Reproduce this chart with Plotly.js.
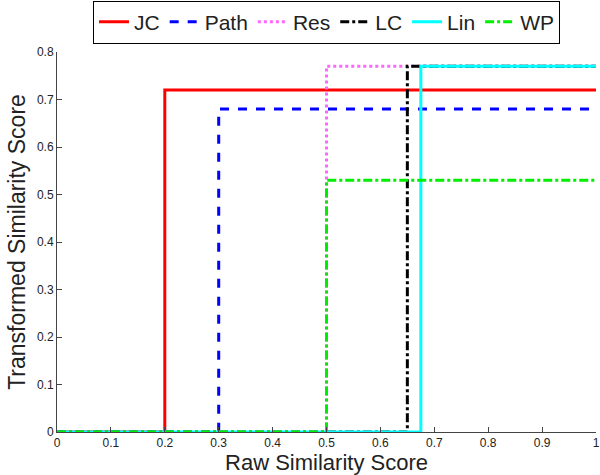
<!DOCTYPE html>
<html><head><meta charset="utf-8">
<script src="https://cdn.plot.ly/plotly-3.0.1.min.js"></script>
<style>html,body{margin:0;padding:0;background:#fff}#chart{width:600px;height:475px}</style>
</head><body><div id="chart"></div>
<script>
const names = ["JC", "Path", "Res", "LC", "Lin", "WP"];
const thresholds = [0.2, 0.3, 0.5, 0.65, 0.675, 0.5];
const levels = [0.72, 0.68, 0.77, 0.77, 0.77, 0.53];
const colors = ["#ff0000", "#0000ff", "#ff66ff", "#000000", "#00ffff", "#00ee00"];
const dashes = ["solid", "dash", "dot", "dashdot", "solid", "dashdot"];
const xTicks = [0, 0.1, 0.2, 0.3, 0.4, 0.5, 0.6, 0.7, 0.8, 0.9, 1];
const xTickText = ["0", "0.1", "0.2", "0.3", "0.4", "0.5", "0.6", "0.7", "0.8", "0.9", "1"];
const yTicks = [0, 0.1, 0.2, 0.3, 0.4, 0.5, 0.6, 0.7, 0.8];
const yTickText = ["0", "0.1", "0.2", "0.3", "0.4", "0.5", "0.6", "0.7", "0.8"];

const traces = names.map((n, i) => ({
  type: "scatter", mode: "lines", name: n,
  x: [0, thresholds[i], 1], y: [0, levels[i], levels[i]],
  line: {shape: "hv", color: colors[i], dash: dashes[i], width: 3}
}));

const layout = {
  width: 600, height: 475,
  margin: {l: 57, r: 4, t: 52, b: 43, autoexpand: false},
  paper_bgcolor: "#fff", plot_bgcolor: "#fff",
  font: {family: "Liberation Sans, Arial, sans-serif", color: "#222"},
  showlegend: true,
  legend: {orientation: "h", x: 0.5, xanchor: "center", y: 1.022, yanchor: "bottom",
    bordercolor: "#000", borderwidth: 1, font: {size: 21, color: "#222"},
    itemwidth: 30, tracegroupgap: 0, bgcolor: "#fff"},
  xaxis: {range: [0, 1], tickvals: xTicks, ticktext: xTickText, ticks: "inside", ticklen: 5,
    tickcolor: "#444", showline: true, linecolor: "#444", linewidth: 1, showgrid: false, zeroline: false,
    tickfont: {size: 12, color: "#222"},
    title: {text: "Raw Similarity Score", font: {size: 22, color: "#222"}, standoff: 2}},
  yaxis: {range: [0, 0.8], tickvals: yTicks, ticktext: yTickText, ticks: "inside", ticklen: 5,
    tickcolor: "#444", showline: true, linecolor: "#444", linewidth: 1, showgrid: false, zeroline: false,
    tickfont: {size: 12, color: "#222"},
    title: {text: "Transformed Similarity Score", font: {size: 23, color: "#222"}, standoff: 4}}
};
Plotly.newPlot("chart", traces, layout, {displayModeBar: false, staticPlot: true});
</script></body></html>
